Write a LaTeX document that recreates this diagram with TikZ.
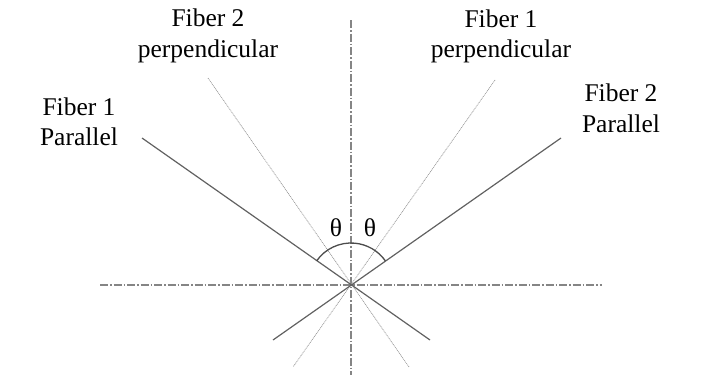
\documentclass[tikz,border=0pt]{standalone}
\usepackage{fontspec}
\setmainfont{Liberation Serif}
\begin{document}
\begin{tikzpicture}[x=1pt,y=-1pt,
  lbl/.style={inner sep=0pt,outer sep=0pt,align=center,anchor=north,font=\fontsize{25.5}{30.5}\selectfont},
  ang/.style={inner sep=0pt,outer sep=0pt,font=\fontsize{25.5}{30.5}\selectfont},
  axis/.style={draw=black!48,line width=1.3pt,dash pattern=on 8pt off 2pt on 1.5pt off 2pt},
  par/.style={draw=black!62,line width=1.2pt},
  perp/.style={draw=black!40,line width=0.7pt,dash pattern=on 1pt off 0.8pt},
  arcline/.style={draw=black!70,line width=1.3pt}]
\useasboundingbox (0,0) rectangle (706,375);
\coordinate (O) at (351,285);
\coordinate (hl) at (100,285);
\coordinate (hr) at (602,285);
\coordinate (vt) at (351,20);
\coordinate (vb) at (351,375);
\coordinate (p1a) at (142,138);
\coordinate (p1b) at (430,340);
\coordinate (p2a) at (561,138);
\coordinate (p2b) at (273,340);
\coordinate (q2a) at (208,78);
\coordinate (q2b) at (409,367);
\coordinate (q1a) at (495,80);
\coordinate (q1b) at (293,367);
\draw[axis] (hl) -- (hr);
\draw[axis] (vt) -- (vb);
\draw[perp] (q2a) -- (q2b);
\draw[perp] (q1a) -- (q1b);
\draw[par] (p1a) -- (p1b);
\draw[par] (p2a) -- (p2b);
\draw[arcline] ([shift={(-145:42)}]O) arc[start angle=-145,end angle=-35,radius=42];
\node[lbl] (f2perp) at (208,9) {Fiber 2\\perpendicular};
\node[lbl] (f1par) at (79,97.4) {Fiber 1\\Parallel};
\node[lbl] (f1perp) at (501,9.4) {Fiber 1\\perpendicular};
\node[lbl] (f2par) at (621,84) {Fiber 2\\Parallel};
\node[ang] (th1) at (336,228) {θ};
\node[ang] (th2) at (370,228) {θ};
\end{tikzpicture}
\end{document}
